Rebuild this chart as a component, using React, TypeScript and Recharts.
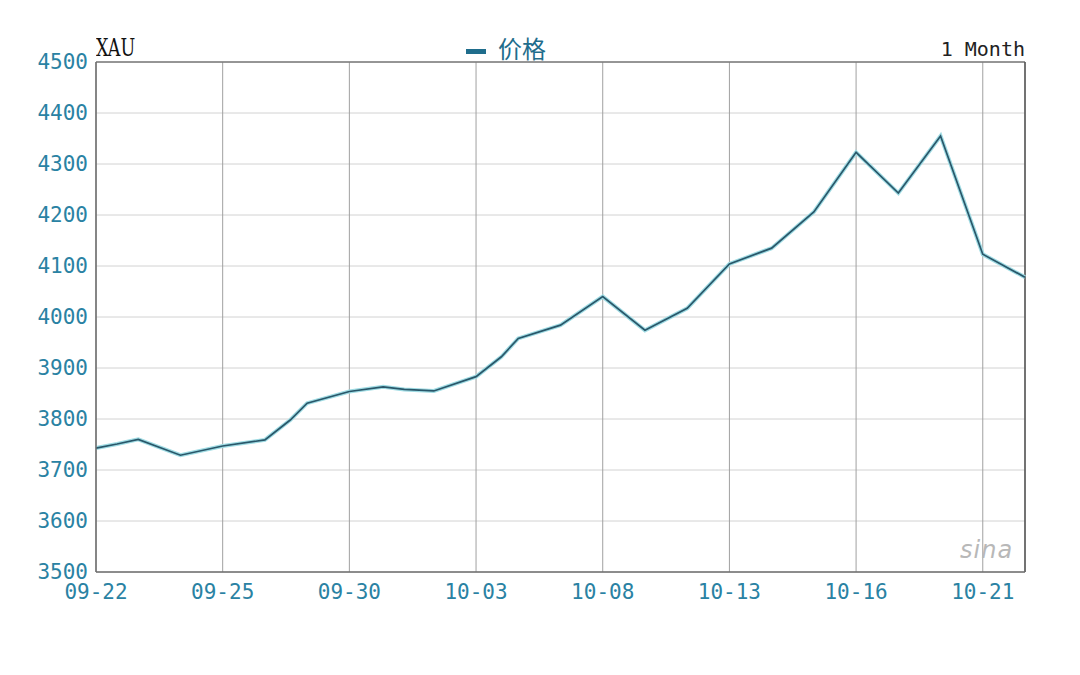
import {
  LineChart,
  Line,
  XAxis,
  YAxis,
  CartesianGrid,
  ReferenceLine,
} from "recharts";

// trading days shown on the 1 month view
const tradingDays = [
  "09-22", "09-23", "09-24", "09-25", "09-26", "09-29", "09-30", "10-01",
  "10-02", "10-03", "10-06", "10-07", "10-08", "10-09", "10-10", "10-13",
  "10-14", "10-15", "10-16", "10-17", "10-20", "10-21", "10-22",
];

// sample position (trading day index) and price
const samplePos = [
  0, 0.5, 1, 2, 3, 4, 4.6, 5, 6, 6.8, 7.3, 8, 9, 9.6, 10, 11, 12, 13, 14,
  15, 16, 17, 18, 19, 20, 21, 22,
];
const prices = [
  3743, 3751, 3760, 3729, 3747, 3759, 3798, 3831, 3854, 3863, 3858, 3855,
  3883, 3922, 3958, 3984, 4040, 3974, 4017, 4104, 4135, 4206, 4323, 4243,
  4355, 4123, 4078,
];

const xTicks = [0, 3, 6, 9, 12, 15, 18, 21];
const yTicks = [3500, 3600, 3700, 3800, 3900, 4000, 4100, 4200, 4300, 4400, 4500];

const data = samplePos.map((pos, i) => ({ pos, price: prices[i] }));

const MONO = "'DejaVu Sans Mono', 'Liberation Mono', monospace";
const TICK_COLOR = "#2a82a3";

export default function App() {
  return (
    <div
      style={{
        position: "fixed",
        left: 0,
        top: 0,
        width: 1080,
        height: 675,
        background: "#fff",
      }}
    >
      <LineChart
        width={1080}
        height={675}
        data={data}
        margin={{ top: 62, right: 55, left: 0, bottom: 0 }}
      >
        <CartesianGrid vertical={false} stroke="#d2d2d2" />
        <CartesianGrid horizontal={false} stroke="#a0a0a0" />
        <XAxis
          dataKey="pos"
          type="number"
          domain={[0, 22]}
          ticks={xTicks}
          tickFormatter={(v) => tradingDays[v]}
          height={103}
          tickSize={0}
          tickMargin={12}
          tick={{ fill: TICK_COLOR, fontSize: 21, fontFamily: MONO }}
          axisLine={{ stroke: "#6e6e6e", strokeWidth: 1.5 }}
        />
        <YAxis
          type="number"
          domain={[3500, 4500]}
          ticks={yTicks}
          width={96}
          tickSize={0}
          tickMargin={8}
          tick={{ fill: TICK_COLOR, fontSize: 21, fontFamily: MONO }}
          axisLine={{ stroke: "#6e6e6e", strokeWidth: 1.5 }}
        />
        <ReferenceLine y={4500} stroke="#7a7a7a" strokeWidth={1.5} />
        <ReferenceLine x={22} stroke="#555" strokeWidth={1.5} />
        <Line
          dataKey="price"
          type="linear"
          stroke="#9fdbe3"
          strokeWidth={4}
          dot={false}
          isAnimationActive={false}
        />
        <Line
          dataKey="price"
          type="linear"
          stroke="#29576a"
          strokeWidth={1.7}
          dot={false}
          isAnimationActive={false}
        />
      </LineChart>

      <div
        style={{
          position: "absolute",
          left: 96,
          top: 33,
          fontFamily: "'DejaVu Serif', 'Liberation Serif', serif",
          fontSize: 25,
          color: "#111",
          transform: "scaleX(0.7)",
          transformOrigin: "left top",
        }}
      >
        XAU
      </div>
      <div
        style={{
          position: "absolute",
          left: 466,
          top: 30,
          display: "flex",
          alignItems: "center",
          gap: 12,
          color: "#1f6d8c",
          fontFamily: "'Noto Sans CJK SC', sans-serif",
          fontSize: 24,
        }}
      >
        <span
          style={{ display: "inline-block", width: 20, height: 5, background: "#1f6d8c", marginTop: 8 }}
        />
        <span>价格</span>
      </div>
      <div
        style={{
          position: "absolute",
          right: 1080 - 1025,
          top: 37,
          fontFamily: MONO,
          fontSize: 20,
          color: "#222",
        }}
      >
        1 Month
      </div>
      <div
        style={{
          position: "absolute",
          left: 960,
          top: 536,
          fontFamily: "'DejaVu Sans', sans-serif",
          fontStyle: "italic",
          fontSize: 24,
          color: "#b8b8b8",
          letterSpacing: 1,
        }}
      >
        sina
      </div>
    </div>
  );
}
